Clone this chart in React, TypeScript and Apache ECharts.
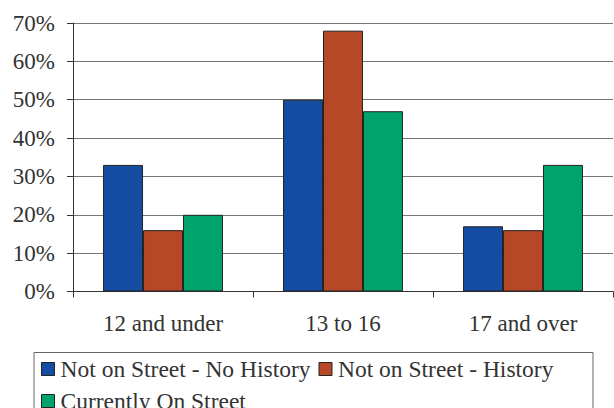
import React, { useEffect, useRef } from "react";
import * as echarts from "echarts";

const categories = ["12 and under", "13 to 16", "17 and over"];
const seriesNames = [
  "Not on Street - No History",
  "Not on Street - History",
  "Currently On Street",
];
const noHistory = [33, 50, 17];
const history = [16, 68, 16];
const onStreet = [20, 47, 33];
const seriesColors = ["#134ca0", "#b64828", "#00a36b"];

const FONT = "Liberation Serif";

export default function App() {
  const ref = useRef<HTMLDivElement>(null);
  useEffect(() => {
    if (!ref.current) return;
    const chart = echarts.init(ref.current, undefined, { renderer: "svg" });
    const values = [noHistory, history, onStreet];
    chart.setOption({
      animation: false,
      textStyle: { fontFamily: FONT },
      grid: { left: 73, right: 1, top: 23, bottom: 116.5, containLabel: false },
      legend: {
        left: 41,
        top: 357,
        width: 548,
        padding: 0,
        itemGap: 8,
        itemWidth: 13,
        itemHeight: 13,
        icon: "rect",
        itemStyle: { borderColor: "#222", borderWidth: 1 },
        textStyle: { fontFamily: FONT, fontSize: 23.5, color: "#333", lineHeight: 23, padding: [0, 0, 0, 1] },
        data: seriesNames,
      },
      xAxis: {
        type: "category",
        data: categories,
        axisLine: { lineStyle: { color: "#333", width: 1 } },
        axisTick: { show: true, length: 6, lineStyle: { color: "#333" } },
        axisLabel: { fontFamily: FONT, fontSize: 23, color: "#333", margin: 20 },
      },
      yAxis: {
        type: "value",
        min: 0,
        max: 70,
        interval: 10,
        axisLine: { show: true, lineStyle: { color: "#333", width: 1 } },
        axisTick: { show: true, length: 6, lineStyle: { color: "#333" } },
        axisLabel: { fontFamily: FONT, fontSize: 23, color: "#333", margin: 18, formatter: "{value}%" },
        splitLine: { show: true, lineStyle: { color: "#777", width: 1 } },
      },
      graphic: [
        {
          type: "rect",
          shape: { x: 34, y: 352.5, width: 559, height: 80 },
          style: { fill: "none", stroke: "#666", lineWidth: 1 },
          silent: true,
        },
      ],
      series: seriesNames.map((name, i) => ({
        name,
        type: "bar",
        data: values[i],
        barGap: "0%",
        barCategoryGap: "33.4%",
        itemStyle: { color: seriesColors[i], borderColor: "#222", borderWidth: 1 },
      })),
    });
    return () => chart.dispose();
  }, []);
  return (
    <div
      ref={ref}
      style={{ position: "fixed", left: 0, top: 0, width: 614, height: 408, background: "#fff" }}
    />
  );
}
